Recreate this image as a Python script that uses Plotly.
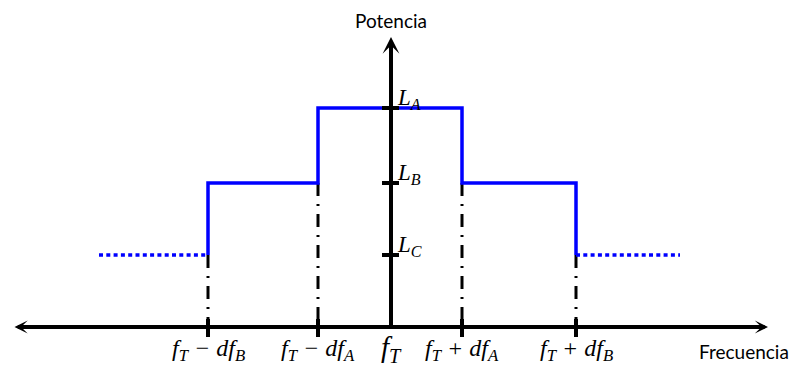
import plotly.graph_objects as go

# ---- data (frequency offsets from f_T, power levels) ----
freq_pos = [-183, -73, 0, 71, 185]
freq_labels = [
    "<i>f<sub>T</sub> − df<sub>B</sub></i>",
    "<i>f<sub>T</sub> − df<sub>A</sub></i>",
    "<i>f<sub>T</sub></i>",
    "<i>f<sub>T</sub> + df<sub>A</sub></i>",
    "<i>f<sub>T</sub> + df<sub>B</sub></i>",
]
level_labels = ["<i>L<sub>A</sub></i>", "<i>L<sub>B</sub></i>", "<i>L<sub>C</sub></i>"]
level_values = [219, 144, 72]
tail_left_x = [-292, -183]
tail_right_x = [185, 289]

LA, LB, LC = level_values
spec_x = [freq_pos[0], freq_pos[0], freq_pos[1], freq_pos[1],
          freq_pos[3], freq_pos[3], freq_pos[4], freq_pos[4]]
spec_y = [LC, LB, LB, LA, LA, LB, LB, LC]

fig = go.Figure()

# dash-dot drop lines
drop_levels = [LC, LB, None, LB, LC]
for xp, lv in zip(freq_pos, drop_levels):
    if lv is None:
        continue
    fig.add_trace(go.Scatter(x=[xp, xp], y=[lv, 0], mode="lines",
                             line=dict(color="black", width=3, dash="13px,8px,2px,8px"),
                             hoverinfo="skip"))

# dotted tails
for tx in (tail_left_x, tail_right_x):
    fig.add_trace(go.Scatter(x=tx, y=[LC, LC], mode="lines",
                             line=dict(color="#0000ff", width=3.5, dash="4px,3.3px"),
                             hoverinfo="skip"))

# spectrum steps
fig.add_trace(go.Scatter(x=spec_x, y=spec_y, mode="lines",
                         line=dict(color="#0000ff", width=3.5),
                         hoverinfo="skip"))

# x ticks
for xp in freq_pos:
    if xp == 0:
        continue
    fig.add_trace(go.Scatter(x=[xp, xp], y=[-10, 8], mode="lines",
                             line=dict(color="black", width=4), hoverinfo="skip"))
# y ticks
for lv in level_values:
    fig.add_trace(go.Scatter(x=[-9, 8], y=[lv, lv], mode="lines",
                             line=dict(color="black", width=4), hoverinfo="skip"))

annotations = []
# axes with arrows
annotations.append(dict(x=377, y=0, ax=-378, ay=0, xref="x", yref="y",
                        axref="x", ayref="y", text="", showarrow=True,
                        arrowhead=3, startarrowhead=3, arrowside="end+start",
                        arrowwidth=4, arrowsize=0.55, startarrowsize=0.55,
                        arrowcolor="black"))
annotations.append(dict(x=0, y=290, ax=0, ay=0, xref="x", yref="y",
                        axref="x", ayref="y", text="", showarrow=True,
                        arrowhead=3, arrowwidth=4, arrowsize=0.7,
                        arrowcolor="black"))

serif = "Liberation Serif"
for xp, lab in zip(freq_pos, freq_labels):
    big = xp == 0
    annotations.append(dict(x=xp, y=-22 if big else -23, xref="x", yref="y", text=lab,
                            showarrow=False, xanchor="center", yanchor="middle",
                            font=dict(family=serif, size=29 if big else 24, color="black")))
for lv, lab in zip(level_values, level_labels):
    annotations.append(dict(x=4, y=lv + 9, xref="x", yref="y", text=lab,
                            showarrow=False, xanchor="left", yanchor="middle",
                            font=dict(family=serif, size=23, color="black")))

annotations.append(dict(x=0, y=319, xref="x", yref="y", text="Potencia",
                        showarrow=False, xanchor="center", yanchor="top", borderpad=0,
                        font=dict(family="Lato", size=19, color="black")))
annotations.append(dict(x=353, y=-24, xref="x", yref="y", text="Frecuencia",
                        showarrow=False, xanchor="center", yanchor="middle",
                        font=dict(family="Lato", size=19, color="black")))

# page body has an 8px margin: figure sized/ranged so it lands in the 798x366 window
fig.update_layout(
    width=790, height=358,
    margin=dict(l=0, r=0, t=0, b=0),
    paper_bgcolor="white", plot_bgcolor="white",
    showlegend=False,
    xaxis=dict(range=[-383, 407], visible=False, fixedrange=True),
    yaxis=dict(range=[-39, 319], visible=False, fixedrange=True),
    annotations=annotations,
)

fig.write_html("out.html")
